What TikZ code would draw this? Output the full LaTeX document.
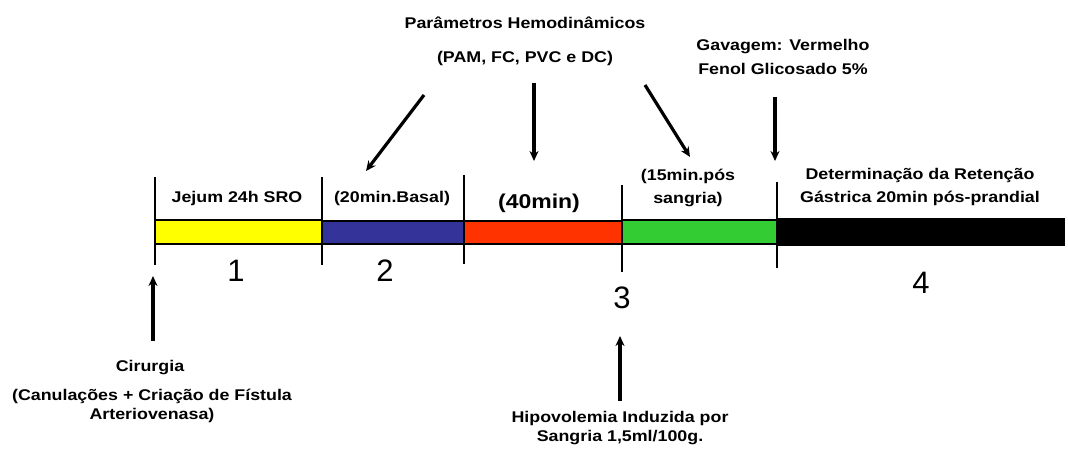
\documentclass[tikz,border=0pt]{standalone}
\usepackage{fontspec}
\setmainfont{Liberation Sans}[FakeStretch=1.15]
\newfontfamily\numfont{Liberation Sans}
\usetikzlibrary{arrows.meta}
\definecolor{cyel}{HTML}{FFFF00}
\definecolor{cblue}{HTML}{333399}
\definecolor{cred}{HTML}{FF3300}
\definecolor{cgreen}{HTML}{33CC33}
\begin{document}
\begin{tikzpicture}[x=1pt,y=-1pt,
  lbl/.style={font=\bfseries\fontsize{15.5}{19}\selectfont, align=center, inner sep=0pt},
  wide/.style={font=\bfseries\fontsize{15.5}{23.5}\selectfont},
  num/.style={font=\numfont\fontsize{31}{31}\selectfont, inner sep=0pt},
  bar/.style={draw=black, line width=1.2pt},
  tick/.style={line width=2.4pt},
  arr/.style={line width=3.2pt, -{Stealth[length=10pt,width=9pt]}}]
\useasboundingbox (0,0) rectangle (1068,454);
% bars
\fill[cyel,bar] (155,220) rectangle (322,244);
\fill[cblue,bar] (322,221) rectangle (464,244);
\fill[cred,bar] (464,221) rectangle (622,244);
\fill[cgreen,bar] (622,220) rectangle (777,244);
\fill[black,bar] (777,219) rectangle (1064,245);
% ticks
\draw[tick] (155,177) -- (155,265);
\draw[tick] (322,177) -- (322,265);
\draw[tick] (464,175) -- (464,264);
\draw[tick] (622,185) -- (622,272);
\draw[tick] (777,182) -- (777,268);
% phase labels
\node[lbl] (jejum) at (237,198) {Jejum 24h SRO};
\node[lbl] (basal) at (392,198) {(20min.Basal)};
\node[lbl, font=\bfseries\fontsize{20}{24}\selectfont] (quar) at (539,203) {(40min)};
\node[lbl,wide] (quinze) at (688,188) {(15min.pós\\sangria)};
\node[lbl,wide] (deter) at (920,187) {Determinação da Retenção\\Gástrica 20min pós-prandial};
% numbers
\node[num] (n1) at (236,271) {1};
\node[num] (n2) at (385,271) {2};
\node[num] (n3) at (622,298) {3};
\node[num] (n4) at (921,283) {4};
% top labels
\node[lbl] (param) at (525,23) {Parâmetros Hemodinâmicos};
\node[lbl] (pam) at (525,58) {(PAM, FC, PVC e DC)};
\node[lbl,wide] (gav) at (783,57) {Gavagem: Vermelho\\Fenol Glicosado 5\%};
% bottom labels
\node[lbl] (cir) at (150,368) {Cirurgia};
\node[lbl] (canul) at (152,406) {(Canulações + Criação de Fístula\\Arteriovenasa)};
\node[lbl] (hipo) at (620,428) {Hipovolemia Induzida por\\Sangria 1,5ml/100g.};
% arrow coordinates
\coordinate (a1s) at (424,95);  \coordinate (a1e) at (366,171);
\coordinate (a2s) at (534,83);  \coordinate (a2e) at (534,161);
\coordinate (a3s) at (645,85);  \coordinate (a3e) at (690,157);
\coordinate (a4s) at (775,97);  \coordinate (a4e) at (775,161);
\coordinate (a5s) at (153,341); \coordinate (a5e) at (153,276);
\coordinate (a6s) at (620,401); \coordinate (a6e) at (620,336);
\draw[arr] (a1s) -- (a1e);
\draw[arr] (a2s) -- (a2e);
\draw[arr] (a3s) -- (a3e);
\draw[arr] (a4s) -- (a4e);
\draw[arr] (a5s) -- (a5e);
\draw[arr] (a6s) -- (a6e);
\end{tikzpicture}
\end{document}
